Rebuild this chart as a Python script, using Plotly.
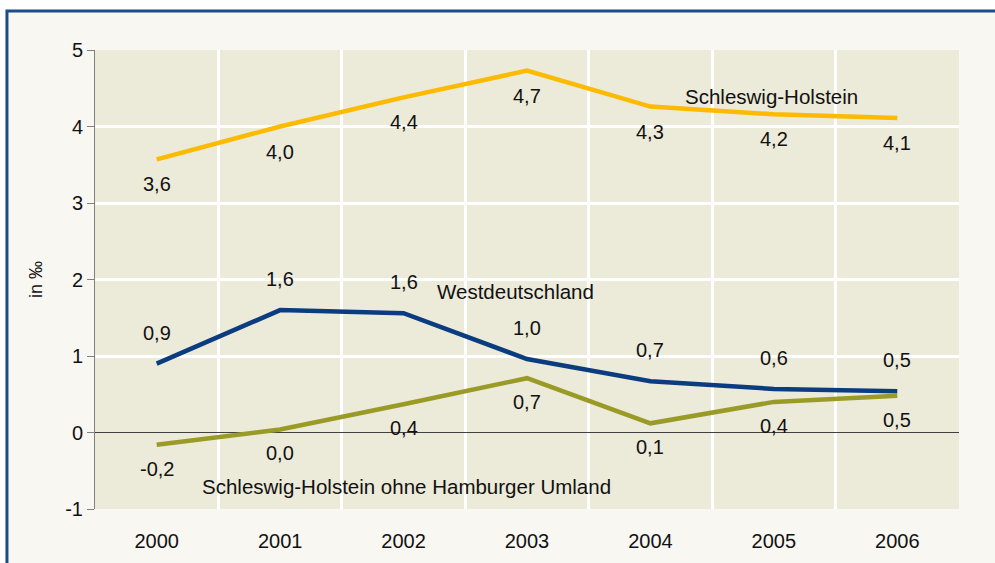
import plotly.graph_objects as go

years = ["2000", "2001", "2002", "2003", "2004", "2005", "2006"]
sh = [3.57, 4.0, 4.38, 4.73, 4.26, 4.16, 4.11]
sh_labels = ["3,6", "4,0", "4,4", "4,7", "4,3", "4,2", "4,1"]
west = [0.90, 1.60, 1.56, 0.96, 0.67, 0.57, 0.54]
west_labels = ["0,9", "1,6", "1,6", "1,0", "0,7", "0,6", "0,5"]
sh_ohne = [-0.16, 0.04, 0.37, 0.71, 0.12, 0.40, 0.48]
sh_ohne_labels = ["-0,2", "0,0", "0,4", "0,7", "0,1", "0,4", "0,5"]
y_ticks = [-1, 0, 1, 2, 3, 4, 5]
y_ticktext = ["-1", "0", "1", "2", "3", "4", "5"]

xs = list(range(len(years)))
FONT = "Liberation Sans, Arial, sans-serif"
TXT = "#111111"

fig = go.Figure()
series = [
    (sh, sh_labels, "#FCBA00", -25, "Schleswig-Holstein"),
    (west, west_labels, "#0B3C80", 31, "Westdeutschland"),
    (sh_ohne, sh_ohne_labels, "#9A9B26", -24, "Schleswig-Holstein ohne Hamburger Umland"),
]
for vals, labs, col, shift, name in series:
    fig.add_trace(go.Scatter(x=xs, y=vals, mode="lines", name=name,
                             line=dict(color=col, width=4.5), showlegend=False,
                             hoverinfo="skip"))
    for xi, v, lab in zip(xs, vals, labs):
        fig.add_annotation(x=xi, y=v, text=lab, showarrow=False, yshift=shift,
                           font=dict(size=20, color=TXT, family=FONT))

# series names
fig.add_annotation(x=4.98, y=4.39, text="Schleswig-Holstein", showarrow=False,
                   font=dict(size=20.5, color=TXT, family=FONT))
fig.add_annotation(x=2.91, y=1.84, text="Westdeutschland", showarrow=False,
                   font=dict(size=20.5, color=TXT, family=FONT))
fig.add_annotation(x=2.02, y=-0.71, text="Schleswig-Holstein ohne Hamburger Umland",
                   showarrow=False, font=dict(size=20.5, color=TXT, family=FONT))

# outer frame: white strips outside, blue border line
fig.add_shape(type="rect", xref="paper", yref="paper", x0=-0.2, x1=-0.1019, y0=-0.3, y1=1.2,
              line=dict(width=0), fillcolor="white", layer="below")
fig.add_shape(type="rect", xref="paper", yref="paper", x0=-0.2, x1=1.2, y0=1.085, y1=1.2,
              line=dict(width=0), fillcolor="white", layer="below")
fig.add_shape(type="rect", xref="paper", yref="paper", x0=-0.1019, x1=1.1, y0=-0.3, y1=1.085,
              line=dict(color="#1B4C8C", width=3), fillcolor="rgba(0,0,0,0)", layer="above")

fig.update_layout(
    width=995, height=563,
    margin=dict(l=95, r=36, t=50, b=54),
    paper_bgcolor="#F8F7F2",
    plot_bgcolor="#ECEAD9",
    font=dict(family=FONT, size=20, color=TXT),
    xaxis=dict(range=[-0.5, 6.5], tickmode="array", tickvals=xs, ticktext=years,
               showgrid=False, zeroline=False, showline=False, automargin=False,
               ticks="outside", ticklen=14, tickcolor="rgba(0,0,0,0)",
               minor=dict(tick0=-0.5, dtick=1, showgrid=True, gridcolor="white", gridwidth=3),
               fixedrange=True),
    yaxis=dict(range=[-1, 5], tickmode="array", tickvals=y_ticks, ticktext=y_ticktext,
               showgrid=True, gridcolor="white", gridwidth=3, automargin=False,
               zeroline=True, zerolinecolor="#404040", zerolinewidth=1,
               showline=True, linecolor="#808080", linewidth=1,
               ticks="outside", ticklen=7, tickcolor="#808080",
               title=dict(text="in ‰", font=dict(size=18, color=TXT), standoff=17),
               fixedrange=True),
)

fig.write_html("out.html", config={"displayModeBar": False},
               post_script="document.body.style.margin='0';document.body.style.overflow='hidden';")
